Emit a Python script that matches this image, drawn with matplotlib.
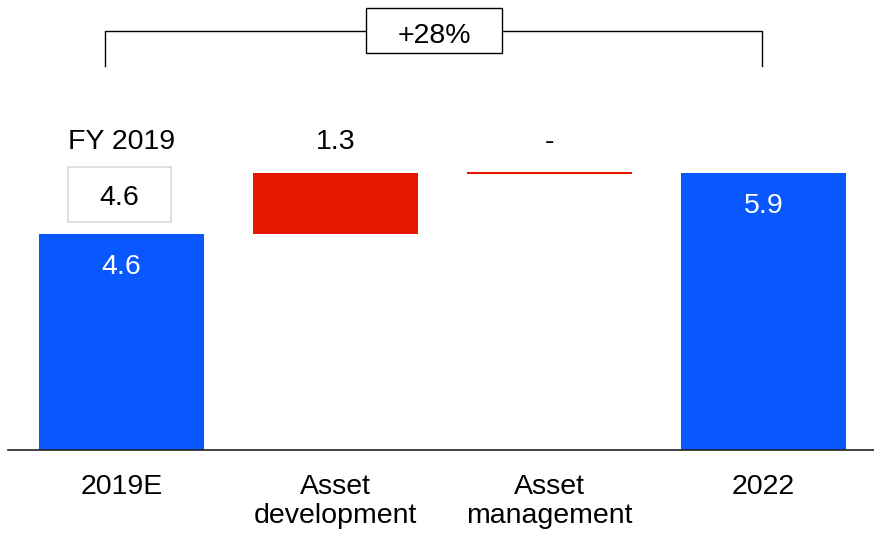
import matplotlib.pyplot as plt
from matplotlib.patches import Rectangle

plt.rcParams['font.family'] = ['Liberation Sans', 'DejaVu Sans']

# chart data
categories = ["2019E", "Asset\ndevelopment", "Asset\nmanagement", "2022"]
values = [4.6, 1.3, 0.0, 5.9]
is_total = [True, False, False, True]
top_labels = ["FY 2019", "1.3", "-", ""]
fy2019_value = "4.6"
growth_label = "+28%"

BLUE = "#0957FF"
RED = "#E61700"
FS = 20.5

fig = plt.figure(figsize=(8.74, 5.35), dpi=100)
ax = fig.add_axes([0, 0, 1, 1])
ax.set_xlim(-0.568, 3.516)
ax.set_ylim(-1.809, 9.574)
ax.axis("off")

width = 0.771
running = 0.0
for i, (v, tot) in enumerate(zip(values, is_total)):
    if tot:
        ax.bar(i, v, width=width, bottom=0, color=BLUE, zorder=2)
        ax.annotate(f"{v:.1f}", (i, v), xytext=(0, -28.8), textcoords="offset points",
                    ha="center", va="baseline", color="white", fontsize=FS, zorder=3)
        running = v
    else:
        if v == 0:
            ax.hlines(running, i - width / 2, i + width / 2, color=RED, lw=1.5, zorder=2)
        else:
            ax.bar(i, v, width=width, bottom=running, color=RED, zorder=2)
        running += v

# labels above bars
for i, lab in enumerate(top_labels):
    if lab:
        ax.text(i, 6.40, lab, ha="center", va="baseline", fontsize=FS)

# FY 2019 reference box
ax.add_patch(Rectangle((-0.01 - 0.2405, 4.85), 0.481, 1.17, facecolor="white",
                       edgecolor="#d9d9d9", lw=1.2, zorder=2))
ax.text(-0.01, 5.213, fy2019_value, ha="center", va="baseline", fontsize=FS, zorder=3)

# baseline
ax.axhline(0, xmin=8 / 874, xmax=1, color="#222222", lw=1.2, zorder=4)

# category labels, one line at a time
for i, c in enumerate(categories):
    for k, line in enumerate(c.split("\n")):
        ax.text(i, -0.936 - 0.617 * k, line, ha="center", va="baseline", fontsize=FS)

# growth bracket
xl, xr = -0.077, 2.993
yb, yt = 8.18, 8.92
ax.plot([xl, xl, xr, xr], [yb, yt, yt, yb], color="black", lw=1.0, zorder=1)
bx, bw, bh = 1.46, 0.636, 0.957
ax.add_patch(Rectangle((bx - bw / 2, yt - bh / 2), bw, bh, facecolor="white",
                       edgecolor="black", lw=1.0, zorder=2))
ax.text(bx, 8.666, growth_label, ha="center", va="baseline", fontsize=FS, zorder=3)

fig.savefig("out.png", dpi=100)
